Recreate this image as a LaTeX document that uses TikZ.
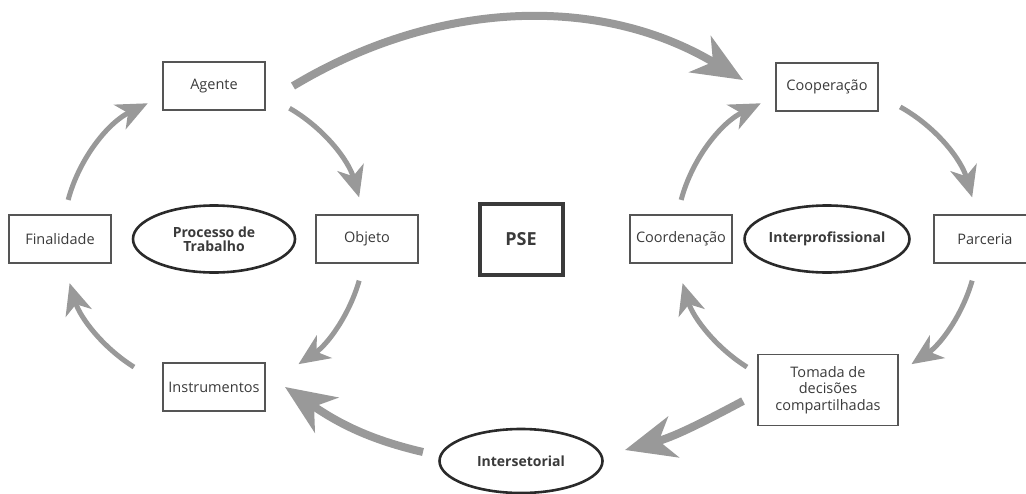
\documentclass[tikz,border=0pt]{standalone}
\usepackage{fontspec}
\setmainfont{Open Sans}
\usetikzlibrary{arrows.meta,calc,shapes.geometric}
\definecolor{arrowgray}{HTML}{999999}
\definecolor{textgray}{HTML}{3A3A3A}
\definecolor{boxline}{HTML}{555555}
\definecolor{ellline}{HTML}{2A2A2A}
\tikzset{
  box/.style={draw=boxline, line width=1.2pt, minimum width=102pt, minimum height=48pt,
    inner sep=2pt, text=textgray, font=\fontsize{14.5}{17}\selectfont, align=center},
  oval/.style={ellipse, draw=ellline, line width=2.6pt, inner sep=0pt,
    text=textgray, font=\fontsize{14}{16}\selectfont\bfseries, align=center},
  ring/.style={draw=arrowgray, line width=5pt,
    -{Stealth[length=31pt,width=27pt,inset=9pt]}},
  bigarrow/.style={draw=arrowgray, line width=8pt,
    -{Stealth[length=50pt,width=42pt,inset=15pt]}},
}
\begin{document}
\begin{tikzpicture}[x=1pt,y=1pt]
\useasboundingbox (0,0) rectangle (1026,-493);
% left cycle
\coordinate (L) at (214,-239);
\node[box] (agente) at (214,-86) {Agente};
\node[box] (final) at (60,-239) {Finalidade};
\node[box] (objeto) at (367,-239) {Objeto};
\node[box] (instr) at (214,-387) {Instrumentos};
\node[oval, minimum width=162pt, minimum height=67pt] (proc) at (L) {Processo de\\[-2pt]Trabalho};
% center
\node[draw=textgray, line width=4pt, minimum width=83pt, minimum height=71pt,
  text=textgray, font=\fontsize{18}{20}\selectfont\bfseries] (pse) at (521,-239) {PSE};
% right cycle
\coordinate (R) at (827,-239);
\node[box] (coop) at (827,-87) {Cooperação};
\node[box] (coord) at (681,-239) {Coordenação};
\node[box] (parc) at (985,-239) {Parceria};
\node[box, minimum width=140pt, minimum height=71pt, font=\fontsize{14.5}{16.5}\selectfont] (tomada) at (828,-390) {Tomada de\\decisões\\compartilhadas};
\node[oval, minimum width=163pt, minimum height=67pt] (inter) at (R) {Interprofissional};
% bottom
\node[oval, minimum width=163pt, minimum height=64pt] (inters) at (521,-461) {Intersetorial};
% ring arrows left
\draw[ring] ($(L)+(165:151)$) arc[start angle=165, end angle=116, radius=151];
\draw[ring] ($(L)+(60:151)$) arc[start angle=60, end angle=16, radius=151];
\draw[ring] ($(L)+(-16:151)$) arc[start angle=-16, end angle=-56, radius=151];
\draw[ring] ($(L)+(-122:151)$) arc[start angle=-122, end angle=-163, radius=151];
% ring arrows right
\draw[ring] ($(R)+(165:151)$) arc[start angle=165, end angle=116, radius=151];
\draw[ring] ($(R)+(61:151)$) arc[start angle=61, end angle=16, radius=151];
\draw[ring] ($(R)+(-16:151)$) arc[start angle=-16, end angle=-56, radius=151];
\draw[ring] ($(R)+(-122:151)$) arc[start angle=-122, end angle=-163, radius=151];
% big arrows
\coordinate (a1) at (293,-86);
\coordinate (a2) at (743,-80);
\draw[bigarrow] (a1) to[out=31, in=149, looseness=0.95] (a2);
\coordinate (b1) at (743,-401);
\coordinate (b2) at (625,-450);
\draw[bigarrow] (b1) to[out=208, in=15] (b2);
\coordinate (c1) at (423,-452);
\coordinate (c2) at (285,-387);
\draw[bigarrow] (c1) to[out=167, in=-34] (c2);
\end{tikzpicture}
\end{document}
